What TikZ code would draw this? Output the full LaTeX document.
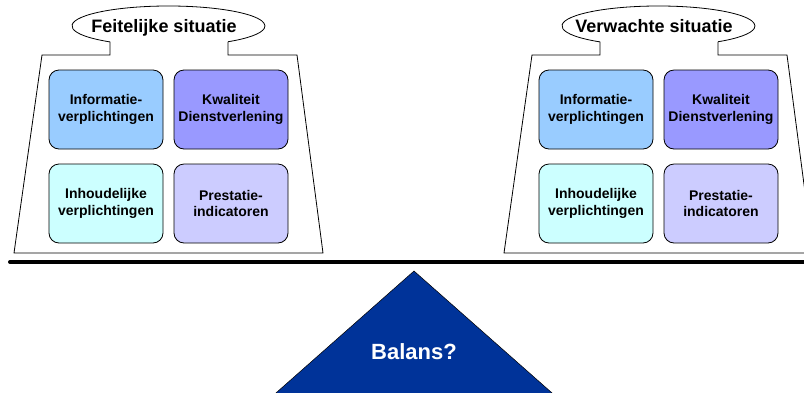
\documentclass[tikz,border=0pt]{standalone}
\usepackage{fontspec}
\setmainfont{Liberation Sans}
\definecolor{infoblue}{HTML}{99CCFF}
\definecolor{kwalviolet}{HTML}{9999FF}
\definecolor{inhoudcyan}{HTML}{CCFFFF}
\definecolor{prestlilac}{HTML}{CCCCFF}
\definecolor{balansblue}{HTML}{003399}
\begin{document}
\begin{tikzpicture}[x=1pt,y=-1pt,
  card/.style={draw=black, line width=0.8pt, rounded corners=10pt,
    minimum width=114pt, minimum height=79pt, inner sep=0pt, align=center,
    font=\fontsize{14}{16.5}\selectfont\bfseries},
  outline/.style={draw=black, line width=0.8pt},
  weighttitle/.style={anchor=base, font=\fontsize{18}{20}\selectfont\bfseries},
  beam/.style={line width=4pt, line cap=round},
  pivot/.style={fill=balansblue, draw=black, line width=0.5pt}]
\useasboundingbox (0,0) rectangle (804,392);
\clip (0,0) rectangle (804,392);

% the two weights on the scale
\foreach \s/\ox/\txt in {feit/0/Feitelijke situatie, verw/490/Verwachte situatie} {
  \begin{scope}[xshift=\ox pt]
    % body of the weight with its neck
    \draw[outline] (110,41.9) -- (110,55) -- (42,55) -- (14,253) -- (323,253)
      -- (297,55) -- (228,55) -- (228,41.9);
    % open handle on top
    \draw[outline] (110,41.9) arc[start angle=127.3, end angle=411.9,
      x radius=96.5, y radius=20];
    \node[weighttitle] (title-\s) at (164,32) {\txt};
    % contents
    \node[card, fill=infoblue]   (info-\s)   at (106,109.5) {Informatie-\\verplichtingen};
    \node[card, fill=kwalviolet] (kwal-\s)   at (231,109.5) {Kwaliteit\\Dienstverlening};
    \node[card, fill=inhoudcyan] (inhoud-\s) at (106,203.5) {Inhoudelijke\\verplichtingen};
    \node[card, fill=prestlilac] (prest-\s)  at (231,203.5) {Prestatie-\\indicatoren};
  \end{scope}
}

% beam and pivot
\draw[beam] (10,262) -- (840,262);
\filldraw[pivot] (414,271) -- (560,400) -- (268,400) -- cycle;
\node[anchor=base, text=white, font=\fontsize{22}{24}\selectfont\bfseries]
  (balans) at (414,359) {Balans?};
\end{tikzpicture}
\end{document}
